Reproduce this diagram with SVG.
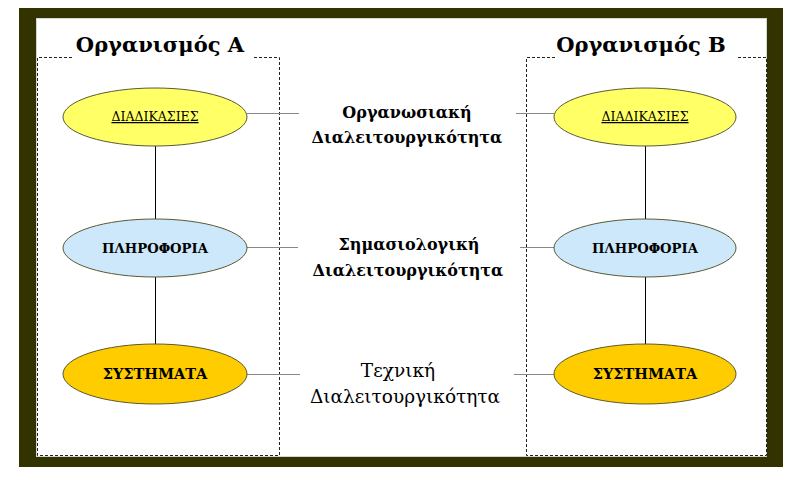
<svg xmlns="http://www.w3.org/2000/svg" width="794" height="478" viewBox="0 0 794 478">
<style>
.title{font-family:"DejaVu Serif",serif;font-weight:bold;font-size:21px;fill:#000;text-anchor:middle}
.lbl{font-family:"DejaVu Serif",serif;font-weight:bold;font-size:16px;fill:#000;text-anchor:middle}
.lblr{font-family:"DejaVu Serif",serif;font-size:18.5px;fill:#000;text-anchor:middle}
.nt{font-family:"DejaVu Serif",serif;font-size:12.5px;fill:#000;text-anchor:middle;text-decoration:underline}
.nb{font-family:"DejaVu Serif",serif;font-weight:bold;font-size:13.2px;fill:#000;text-anchor:middle}
.ns{font-family:"DejaVu Serif",serif;font-weight:bold;font-size:14.5px;fill:#000;text-anchor:middle}
.dash{fill:none;stroke:#222;stroke-width:1;stroke-dasharray:3,2}
.ell{stroke:#5a5a30;stroke-width:1}
.vl{stroke:#000;stroke-width:1}
.hl{stroke:#888;stroke-width:1}
</style>
<rect x="0" y="0" width="794" height="478" fill="#fff"/>
<g id="frame">
<rect x="19" y="8" width="764" height="459" fill="#333300"/>
<rect x="36" y="18" width="731" height="439" fill="#fff"/>
<rect x="36.5" y="18.5" width="730" height="438" fill="none" stroke="#aaa" stroke-width="1" stroke-dasharray="1,1"/>
</g>
<g id="boxes">
<path class="dash" d="M72,57.5 H37.5 V455.5 H279.5 V57.5 H252"/>
<path class="dash" d="M555,57.5 H526.5 V455.5 H766.5 V57.5 H737"/>
</g>
<g id="titleA"><text class="title" x="160" y="52">Οργανισμός Α</text></g>
<g id="titleB"><text class="title" x="641" y="52">Οργανισμός Β</text></g>
<g id="connectors">
<line class="vl" x1="155.5" y1="146" x2="155.5" y2="219"/>
<line class="vl" x1="155.5" y1="277" x2="155.5" y2="345"/>
<line class="vl" x1="645.5" y1="146" x2="645.5" y2="219"/>
<line class="vl" x1="645.5" y1="277" x2="645.5" y2="345"/>
<line class="hl" x1="247" y1="113.5" x2="299" y2="113.5"/>
<line class="hl" x1="516" y1="113.5" x2="554" y2="113.5"/>
<line class="hl" x1="247" y1="247.5" x2="298" y2="247.5"/>
<line class="hl" x1="520" y1="247.5" x2="554" y2="247.5"/>
<line class="hl" x1="247" y1="374.5" x2="300" y2="374.5"/>
<line class="hl" x1="514" y1="374.5" x2="554" y2="374.5"/>
</g>
<g id="procA"><ellipse class="ell" cx="155" cy="117" rx="92" ry="29" fill="#ffff66"/><text class="nt" x="155" y="121">ΔΙΑΔΙΚΑΣΙΕΣ</text></g>
<g id="infoA"><ellipse class="ell" cx="155" cy="248" rx="92" ry="29" fill="#cce8fa"/><text class="nb" x="155" y="253">ΠΛΗΡΟΦΟΡΙΑ</text></g>
<g id="sysA"><ellipse class="ell" cx="155" cy="374" rx="92" ry="30" fill="#ffcc00"/><text class="ns" x="155" y="379">ΣΥΣΤΗΜΑΤΑ</text></g>
<g id="procB"><ellipse class="ell" cx="645" cy="117" rx="91" ry="29" fill="#ffff66"/><text class="nt" x="645" y="121">ΔΙΑΔΙΚΑΣΙΕΣ</text></g>
<g id="infoB"><ellipse class="ell" cx="645" cy="248" rx="91" ry="29" fill="#cce8fa"/><text class="nb" x="645" y="253">ΠΛΗΡΟΦΟΡΙΑ</text></g>
<g id="sysB"><ellipse class="ell" cx="645" cy="374" rx="91" ry="30" fill="#ffcc00"/><text class="ns" x="645" y="379">ΣΥΣΤΗΜΑΤΑ</text></g>
<g id="label1"><text class="lbl" x="407" y="118">Οργανωσιακή</text><text class="lbl" x="407" y="143">Διαλειτουργικότητα</text></g>
<g id="label2"><text class="lbl" x="409" y="250">Σημασιολογική</text><text class="lbl" x="408" y="276">Διαλειτουργικότητα</text></g>
<g id="label3"><text class="lblr" x="398" y="377">Τεχνική</text><text class="lblr" x="405" y="403">Διαλειτουργικότητα</text></g>
</svg>
